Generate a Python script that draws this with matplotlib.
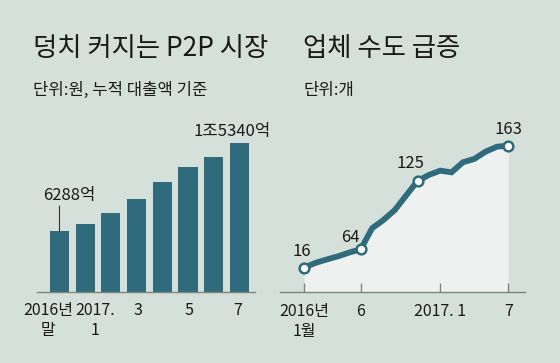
import matplotlib
matplotlib.use("Agg")
import matplotlib.pyplot as plt
from matplotlib.transforms import ScaledTranslation

plt.rcParams['font.family'] = ['Noto Sans CJK KR', 'DejaVu Sans']
plt.rcParams['font.weight'] = 'light'

# ---- data ----
bar_categories = ['2016년말', '2017.1', '2017.2', '2017.3', '2017.4', '2017.5', '2017.6', '2017.7']
bar_values = [6288, 6980, 8150, 9590, 11320, 12900, 13960, 15340]   # 억원
bar_tick_labels = ['2016년\n말', '2017.\n1', '', '3', '', '5', '', '7']
bar_value_labels = {0: '6288억', 7: '1조5340억'}

months = list(range(19))   # 2016.1 ... 2017.7
firm_counts = [16, 21.7, 25.9, 29.7, 34.3, 38.2, 63.5, 73.5, 85.5, 103,
               120.5, 127.7, 132.9, 130.9, 143, 147, 155.8, 161.8, 163]
marked_months = [0, 5, 10, 18]
marked_labels = ['16', '64', '125', '163']
line_ticks = [0, 5, 12, 18]
line_tick_labels = ['2016년\n1월', '6', '2017. 1', '7']

# ---- style ----
BG = '#d6e0da'
TEAL = '#2f6b7c'
FILL = '#eef1ef'
AX_GRAY = '#7d8580'
TXT = '#1a1a1a'
W, H = 560, 363
DPI = 100

fig = plt.figure(figsize=(W / DPI, H / DPI), dpi=DPI, facecolor=BG)

def px_axes(x0, x1, ytop, ybot):
    return fig.add_axes([x0 / W, (H - ybot) / H, (x1 - x0) / W, (ybot - ytop) / H])

def off(dx_px, dy_px):
    return ScaledTranslation(dx_px / DPI, -dy_px / DPI, fig.dpi_scale_trans)

# titles
fig.text(33 / W, 1 - 49 / H, '덩치 커지는 P2P 시장', fontsize=19, va='center', ha='left', color=TXT)
fig.text(33 / W, 1 - 90 / H, '단위:원, 누적 대출액 기준', fontsize=12, va='center', ha='left', color=TXT)
fig.text(303 / W, 1 - 49 / H, '업체 수도 급증', fontsize=19, va='center', ha='left', color=TXT)
fig.text(303 / W, 1 - 90 / H, '단위:개', fontsize=12, va='center', ha='left', color=TXT)

# ---- bar chart ----
ax1 = px_axes(37, 255, 130, 292)
ax1.set_facecolor('none')
xs = list(range(len(bar_values)))
ax1.bar(xs, bar_values, width=0.74, color=TEAL, zorder=2)
ax1.set_xlim(-0.875, 7.607)
ax1.set_ylim(0, 162 * 103.16)
for s in ['top', 'right', 'left']:
    ax1.spines[s].set_visible(False)
ax1.spines['bottom'].set_color(AX_GRAY)
ax1.spines['bottom'].set_linewidth(1.0)
ax1.set_yticks([])
ax1.set_xticks([])
label_dx = [-11, 10, 0, 1, 0, 1, 0, -2]
for i, lab in enumerate(bar_tick_labels):
    if lab:
        ax1.text(i, 0, lab, transform=ax1.get_xaxis_transform() + off(label_dx[i], 10),
                 ha='center', va='top', fontsize=11.5, linespacing=1.2, color=TXT)
# value labels
i0 = 0
ax1.text(i0, bar_values[i0], bar_value_labels[i0], transform=ax1.transData + off(10, -36),
         ha='center', va='center', fontsize=12, color=TXT)
ax1.annotate('', xy=(i0, bar_values[i0]), xycoords='data',
             xytext=(0, 25), textcoords='offset pixels',
             arrowprops=dict(arrowstyle='-', color='#333333', lw=0.8, shrinkA=0, shrinkB=0),
             annotation_clip=False)
i7 = 7
ax1.text(i7, bar_values[i7], bar_value_labels[i7], transform=ax1.transData + off(-7, -12),
         ha='center', va='center', fontsize=12, color=TXT, clip_on=False)

# ---- line chart ----
ax2 = px_axes(280, 525, 130, 292)
ax2.set_facecolor('none')
ax2.set_xlim(-2.115, 19.47)
ymin = -13.3
ax2.set_ylim(ymin, 181.9)
ax2.fill_between(months, firm_counts, ymin, color=FILL, lw=0, zorder=1)
ax2.plot(months, firm_counts, color=TEAL, lw=4.2, solid_joinstyle='miter', zorder=3)
ax2.plot([months[m] for m in marked_months], [firm_counts[m] for m in marked_months],
         ls='none', marker='o', ms=7, mfc='white', mec=TEAL, mew=1.8, zorder=4)
lab_off = [(-2.5, -16), (-10, -12), (-7, -17.7), (0, -16)]
for (m, lab, (dx, dy)) in zip(marked_months, marked_labels, lab_off):
    ax2.text(months[m], firm_counts[m], lab, transform=ax2.transData + off(dx, dy),
             ha='center', va='center', fontsize=12, color=TXT, clip_on=False)
for s in ['top', 'right', 'left']:
    ax2.spines[s].set_visible(False)
ax2.spines['bottom'].set_color(AX_GRAY)
ax2.spines['bottom'].set_linewidth(1.0)
ax2.set_yticks([])
ax2.set_xticks(line_ticks)
ax2.set_xticklabels(line_tick_labels, fontsize=11.5, linespacing=1.2, color=TXT)
ax2.tick_params(axis='x', direction='in', length=6.5, width=1.0, color=AX_GRAY, pad=8)

fig.savefig('out.png', dpi=DPI, facecolor=BG)
